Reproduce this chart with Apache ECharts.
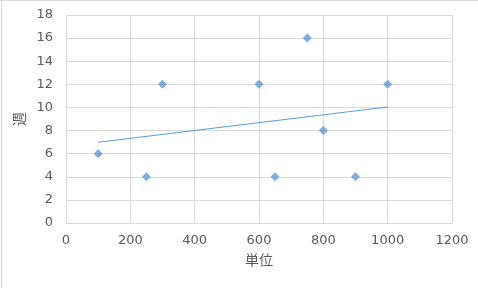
<!DOCTYPE html>
<html><head><meta charset="utf-8">
<script src="https://cdn.jsdelivr.net/npm/echarts@6/dist/echarts.min.js"></script>
<style>html,body{margin:0;padding:0;background:#fff}#c{width:478px;height:288px}</style>
</head><body><div id="c"></div>
<script>
const xValues = [100, 250, 300, 600, 650, 750, 800, 900, 1000];
const yValues = [6, 4, 12, 12, 4, 16, 8, 4, 12];
const trendX = [100, 1000];
const trendY = [6.99, 10.04];
const xTitle = '単位';
const yTitle = '週';

const chart = echarts.init(document.getElementById('c'), null, {renderer: 'canvas'});
const labelStyle = {color: '#595959', fontSize: 13, fontFamily: 'DejaVu Sans', formatter: v => String(v)};
chart.setOption({
  animation: false,
  grid: {left: 66, right: 26, top: 15, bottom: 65},
  xAxis: {
    type: 'value', min: 0, max: 1200, interval: 200,
    name: xTitle, nameLocation: 'middle', nameGap: 30,
    nameTextStyle: {color: '#595959', fontSize: 14, fontFamily: 'Noto Sans CJK JP'},
    axisLine: {show: true, lineStyle: {color: '#d9d9d9'}},
    axisTick: {show: false},
    axisLabel: Object.assign({margin: 11}, labelStyle),
    splitLine: {show: true, lineStyle: {color: '#d9d9d9'}}
  },
  yAxis: {
    type: 'value', min: 0, max: 18, interval: 2,
    name: yTitle, nameLocation: 'middle', nameGap: 30,
    nameTextStyle: {color: '#595959', fontSize: 14, fontFamily: 'Noto Sans CJK JP'},
    axisLine: {show: false},
    axisTick: {show: false},
    axisLabel: Object.assign({margin: 13}, labelStyle),
    splitLine: {show: true, lineStyle: {color: '#d9d9d9'}}
  },
  series: [
    {
      type: 'line',
      data: trendX.map((x, i) => [x, trendY[i]]),
      symbol: 'none',
      lineStyle: {color: '#5B9BD5', width: 1},
      z: 2
    },
    {
      type: 'scatter',
      data: xValues.map((x, i) => [x, yValues[i]]),
      symbol: 'diamond',
      symbolSize: [9, 9],
      itemStyle: {color: '#5B9BD5'},
      z: 3
    }
  ],
  graphic: [
    {type: 'line', shape: {x1: 1.5, y1: 0, x2: 1.5, y2: 288}, style: {stroke: '#d9d9d9', lineWidth: 1}},
    {type: 'line', shape: {x1: 0, y1: 0.5, x2: 478, y2: 0.5}, style: {stroke: '#d9d9d9', lineWidth: 1}}
  ]
});
</script></body></html>
